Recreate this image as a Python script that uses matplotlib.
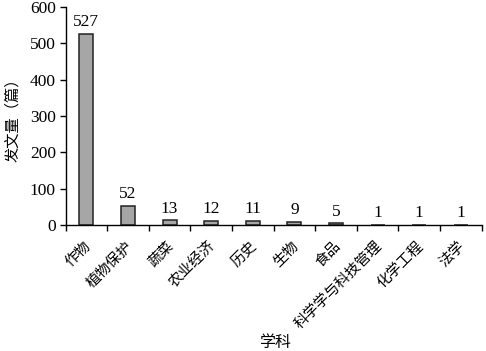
import numpy as np
import matplotlib
matplotlib.use('Agg')
import matplotlib.pyplot as plt

subjects = ['作物', '植物保护', '蔬菜', '农业经济', '历史', '生物', '食品',
            '科学学与科技管理', '化学工程', '法学']
counts = [527, 52, 13, 12, 11, 9, 5, 1, 1, 1]

num_font = 'Liberation Serif'
cjk_font = ['Noto Sans CJK SC', 'DejaVu Sans']

fig = plt.figure(figsize=(4.86, 3.51), dpi=100)
ax = fig.add_axes([0.135, 0.359, 0.856, 0.621])

x = np.arange(len(subjects))
ax.bar(x, counts, width=0.34, color='#a6a6a6', edgecolor='#222222', linewidth=1.1)

for xi, v in zip(x, counts):
    ax.text(xi, v + 10, str(v), ha='center', va='bottom', fontsize=12.5, family=num_font)

ax.set_xlim(-0.5, len(subjects) - 0.5)
ax.set_ylim(0, 600)
ax.set_yticks(range(0, 601, 100))
ax.set_yticklabels([str(t) for t in range(0, 601, 100)], family=num_font, fontsize=12.5)

ax.set_xticks(np.arange(-0.5, len(subjects), 1.0), minor=False)
ax.set_xticklabels([])
ax.set_xticks(x + 0.05, minor=True)
ax.set_xticklabels(subjects, minor=True, rotation=45, ha='right', va='center',
                   rotation_mode='anchor', family=cjk_font, fontsize=10.5)
ax.tick_params(axis='x', which='minor', length=0, pad=13.5)
ax.tick_params(axis='x', which='major', length=4, width=1, direction='out')
ax.tick_params(axis='y', length=4, width=1, direction='out', pad=3)

for s in ['top', 'right']:
    ax.spines[s].set_visible(False)
ax.spines['left'].set_linewidth(1)
ax.spines['bottom'].set_linewidth(1)

ax.set_ylabel('发文量（篇）', family=cjk_font, fontsize=11, labelpad=6)
fig.text(0.566, 0.0, '学科', ha='center', va='bottom', family=cjk_font, fontsize=11.5)

fig.savefig('out.png', dpi=100)
